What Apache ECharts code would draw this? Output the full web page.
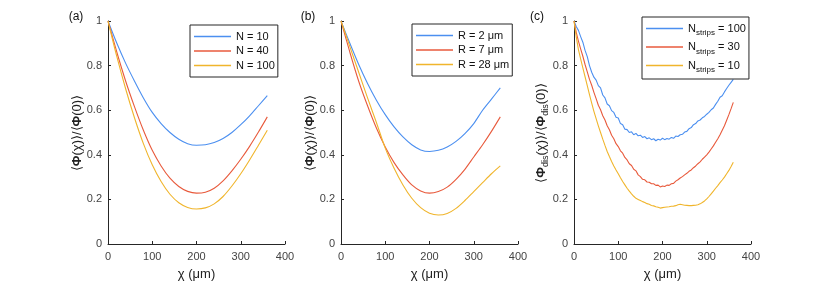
<!DOCTYPE html>
<html><head><meta charset="utf-8">
<script src="https://cdn.jsdelivr.net/npm/echarts@6/dist/echarts.min.js"></script>
<style>html,body{margin:0;padding:0;background:#fff}#c{width:830px;height:281px}</style>
</head><body><div id="c"></div>
<script>
// ---- data ----
const xSmooth = [0,20,40,60,80,100,120,140,160,180,200,220,240,260,280,300,320,340,360];
const aN10  = [1,0.9,0.81,0.73,0.655,0.59,0.54,0.5,0.47,0.45,0.443,0.445,0.455,0.473,0.5,0.535,0.575,0.62,0.665];
const aN40  = [1,0.86,0.73,0.615,0.51,0.42,0.35,0.295,0.258,0.236,0.228,0.232,0.25,0.283,0.328,0.38,0.438,0.502,0.57];
const aN100 = [1,0.84,0.695,0.565,0.45,0.355,0.28,0.223,0.185,0.164,0.157,0.162,0.18,0.213,0.26,0.315,0.377,0.443,0.51];
const bR2  = [1,0.9,0.805,0.72,0.645,0.58,0.525,0.48,0.445,0.422,0.415,0.42,0.435,0.46,0.495,0.54,0.6,0.65,0.70];
const bR7  = [1,0.86,0.73,0.62,0.52,0.435,0.365,0.31,0.265,0.238,0.228,0.235,0.255,0.29,0.335,0.39,0.445,0.505,0.57];
const bR28 = [1,0.885,0.77,0.655,0.545,0.43,0.34,0.265,0.205,0.163,0.138,0.13,0.137,0.16,0.195,0.235,0.275,0.315,0.35];
const xNoisy = [0,5,10,15,20,25,30,35,40,45,50,55,60,65,70,75,80,85,90,95,100,105,110,115,120,125,130,135,140,145,150,155,160,165,170,175,180,185,190,195,200,205,210,215,220,225,230,235,240,245,250,255,260,265,270,275,280,285,290,295,300,305,310,315,320,325,330,335,340,345,350,355,360];
const cS100 = [1.0,0.975,0.958,0.93,0.905,0.868,0.84,0.8,0.77,0.748,0.735,0.71,0.7,0.668,0.655,0.628,0.62,0.598,0.59,0.568,0.565,0.54,0.535,0.515,0.513,0.5,0.503,0.49,0.496,0.485,0.488,0.478,0.482,0.472,0.476,0.468,0.472,0.463,0.47,0.466,0.474,0.468,0.473,0.47,0.478,0.474,0.484,0.482,0.49,0.492,0.502,0.505,0.517,0.522,0.535,0.54,0.552,0.556,0.566,0.572,0.582,0.59,0.602,0.61,0.626,0.64,0.658,0.665,0.682,0.697,0.712,0.725,0.738];
const cS30 = [1,0.95,0.91,0.875,0.842,0.805,0.772,0.738,0.712,0.68,0.652,0.622,0.602,0.575,0.556,0.53,0.512,0.488,0.472,0.45,0.437,0.418,0.407,0.388,0.377,0.36,0.352,0.335,0.328,0.31,0.302,0.29,0.288,0.278,0.277,0.27,0.27,0.263,0.264,0.256,0.26,0.258,0.264,0.263,0.27,0.272,0.282,0.288,0.296,0.302,0.31,0.317,0.326,0.332,0.342,0.35,0.36,0.368,0.38,0.39,0.4,0.412,0.426,0.44,0.456,0.472,0.49,0.51,0.53,0.555,0.58,0.607,0.635];
const cS10 = [1,0.93,0.872,0.83,0.79,0.75,0.71,0.67,0.632,0.595,0.562,0.53,0.5,0.47,0.442,0.415,0.392,0.37,0.35,0.332,0.315,0.297,0.28,0.265,0.25,0.237,0.225,0.214,0.205,0.2,0.195,0.19,0.186,0.181,0.178,0.173,0.171,0.167,0.165,0.161,0.163,0.165,0.166,0.167,0.169,0.17,0.172,0.176,0.178,0.176,0.174,0.173,0.172,0.172,0.173,0.174,0.176,0.18,0.186,0.193,0.202,0.213,0.225,0.237,0.25,0.262,0.275,0.287,0.3,0.315,0.33,0.348,0.367];
const xTicks = [0,100,200,300,400];
const yTicks = [0,0.2,0.4,0.6,0.8,1];
const namesA = ['N = 10','N = 40','N = 100'];
const namesB = ['R = 2 μm','R = 7 μm','R = 28 μm'];
const namesC = ['Nstrips = 100','Nstrips = 30','Nstrips = 10'];

// ---- chart ----
const colors = ['#4b8ff0','#e85a3c','#f0b52c'];
const grids = [
  {left:108, top:21, width:177, height:223, outerBoundsMode:'none', containLabel:false},
  {left:341, top:21, width:177, height:223, outerBoundsMode:'none', containLabel:false},
  {left:574, top:21, width:177, height:223, outerBoundsMode:'none', containLabel:false}
];
const pair = (xs, ys) => xs.map((x,i)=>[x, ys[i]]);
const axisCol = '#262626';
const ff = 'Liberation Sans';
const xAxes = grids.map((g,i)=>({
  type:'value', gridIndex:i, min:xTicks[0], max:xTicks[xTicks.length-1], interval:100,
  axisLine:{show:true, onZero:false, lineStyle:{color:axisCol, width:1}},
  axisTick:{show:true, inside:true, length:3, lineStyle:{color:axisCol}},
  axisLabel:{fontSize:11, color:'#444', margin:7, fontFamily:ff},
  splitLine:{show:false},
  name:'χ (μm)', nameLocation:'middle', nameGap:24,
  nameTextStyle:{fontSize:13, color:'#222', fontFamily:ff}
}));
const yAxes = grids.map((g,i)=>({
  type:'value', gridIndex:i, min:yTicks[0], max:yTicks[yTicks.length-1], interval:0.2,
  axisLine:{show:true, onZero:false, lineStyle:{color:axisCol, width:1}},
  axisTick:{show:true, inside:true, length:3, lineStyle:{color:axisCol}},
  axisLabel:{fontSize:11, color:'#444', margin:6, fontFamily:ff,
    formatter:v=> (v===0||v===1)? String(v) : v.toFixed(1)},
  splitLine:{show:false}
}));
function mk(name, xs, ys, i, ci, smooth){
  return {type:'line', name, xAxisIndex:i, yAxisIndex:i, data:pair(xs,ys),
    symbol:'none', smooth:smooth?0.3:false, animation:false,
    lineStyle:{color:colors[ci], width:1.1}, itemStyle:{color:colors[ci]}};
}
const series = [
  mk(namesA[0], xSmooth, aN10, 0, 0, true),
  mk(namesA[1], xSmooth, aN40, 0, 1, true),
  mk(namesA[2], xSmooth, aN100, 0, 2, true),
  mk(namesB[0], xSmooth, bR2, 1, 0, true),
  mk(namesB[1], xSmooth, bR7, 1, 1, true),
  mk(namesB[2], xSmooth, bR28, 1, 2, true),
  mk(namesC[0], xNoisy, cS100, 2, 0, false),
  mk(namesC[1], xNoisy, cS30, 2, 1, false),
  mk(namesC[2], xNoisy, cS10, 2, 2, false)
];
function leg(extra){
  return Object.assign({orient:'vertical', backgroundColor:'#fff', borderColor:'#262626', borderWidth:1,
    icon:'rect', itemWidth:37, itemHeight:1.6, itemGap:1.5, selectedMode:false,
    textStyle:{fontSize:11, color:'#111', fontFamily:ff, lineHeight:13}}, extra);
}
const legends = [
  leg({data:namesA, left:190, top:25, padding:[5,3,5,4]}),
  leg({data:namesB, left:412, top:24, padding:[5,3,5,4]}),
  leg({data:namesC, left:642, top:17, padding:[6,3,5,4], itemGap:4.5,
    formatter:n=>'{n|N}{s|strips}{n|'+n.slice(7)+'}',
    textStyle:{fontSize:11, color:'#111', fontFamily:ff,
      rich:{n:{fontSize:11, color:'#111', fontFamily:ff},
            s:{fontSize:8, color:'#111', fontFamily:ff, padding:[9,0,0,0]}}}})
];
function ytitle(x, dis){
  const sub = dis ? '{s|dis}' : '';
  return {type:'text', x:x, y:133, rotation:Math.PI/2,
    style:{text:'⟨{b|Φ}'+sub+'(χ)⟩/⟨{b|Φ}'+sub+'(0)⟩', fontSize:13, fontFamily:ff, fill:'#222',
      align:'center', verticalAlign:'middle',
      rich:{b:{fontSize:13, fontWeight:'bold', fontFamily:ff, fill:'#222'},
            s:{fontSize:9, fontFamily:ff, fill:'#222', padding:[10,0,0,0]}}}};
}
function plabel(x, t){
  return {type:'text', x:x, y:17, style:{text:t, fontSize:12, fontFamily:ff, fill:'#111', align:'center', verticalAlign:'middle'}};
}
const chart = echarts.init(document.getElementById('c'), null, {renderer:'canvas'});
chart.setOption({
  animation:false,
  backgroundColor:'#fff',
  grid: grids,
  xAxis: xAxes,
  yAxis: yAxes,
  legend: legends,
  series: series,
  graphic: [ytitle(77,false), ytitle(310,false), ytitle(541,true), plabel(76,'(a)'), plabel(308,'(b)'), plabel(537,'(c)')]
});
</script></body></html>
